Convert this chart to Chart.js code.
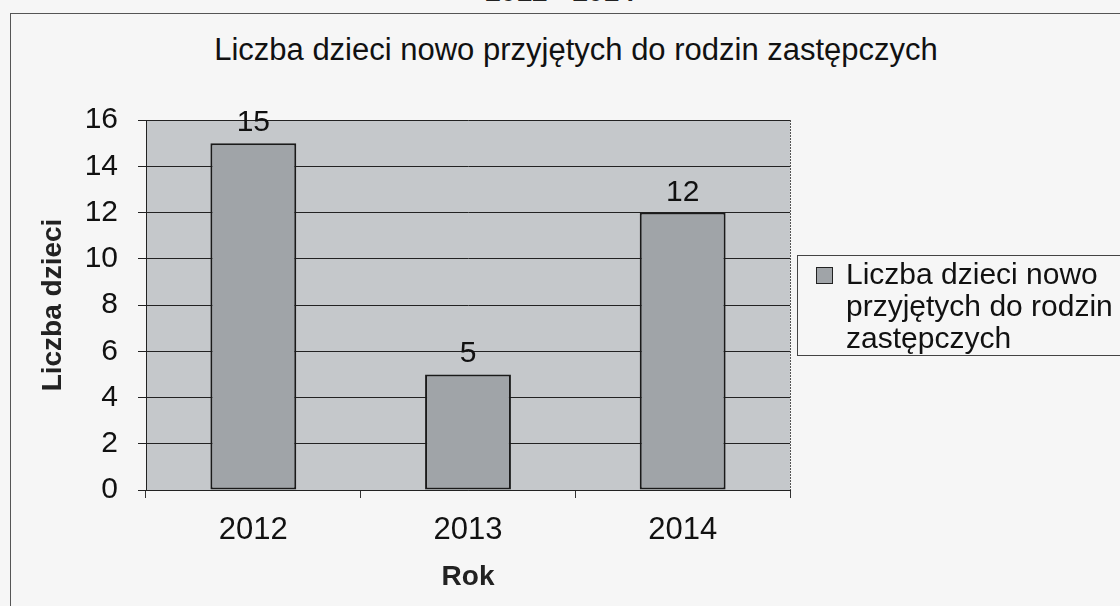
<!DOCTYPE html>
<html>
<head>
<meta charset="utf-8">
<script src="https://cdn.jsdelivr.net/npm/chart.js@4.4.1/dist/chart.umd.min.js"></script>
<style>
  html, body { margin: 0; padding: 0; background: #f6f6f6; }
  #wrap { position: relative; width: 1120px; height: 606px; overflow: hidden; font-family: "Liberation Sans", Arial, sans-serif; }
  #frame { position: absolute; left: 10px; top: 13px; width: 1200px; height: 700px; border: 1.5px solid #555; box-sizing: border-box; }
  #cut { position: absolute; left: 0; width: 1120px; top: -22px; text-align: center; font-weight: bold; font-size: 28px; line-height: 28px; color: #222; }
  #title { position: absolute; left: 0; top: 32px; width: 1152px; text-align: center; font-size: 31px; line-height: 36px; color: #111; white-space: nowrap; }
  #legend { position: absolute; left: 797px; top: 255px; width: 400px; height: 101px; border: 1px solid #444; box-sizing: border-box; }
  #legend .sw { position: absolute; left: 18px; top: 11px; width: 17px; height: 17px; background: #a0a4a8; border: 1px solid #222; box-sizing: border-box; }
  #legend .tx { position: absolute; left: 48px; top: 2px; font-size: 30px; line-height: 32px; color: #111; white-space: nowrap; }
  canvas { position: absolute; left: 0; top: 0; }
</style>
</head>
<body>
<div id="wrap">
  <div id="frame"></div>
  <div id="cut">2012 - 2014</div>
  <div id="title">Liczba dzieci nowo przyjętych do rodzin zastępczych</div>
  <canvas id="c" width="1120" height="606"></canvas>
  <div id="legend"><div class="sw"></div><div class="tx" id="legtx"></div></div>
</div>
<script>
const categories = ["2012", "2013", "2014"];
const values = [15, 5, 12];
const seriesName = "Liczba dzieci nowo przyjętych do rodzin zastępczych";
const legendLines = ["Liczba dzieci nowo", "przyjętych do rodzin", "zastępczych"];
const yTitle = "Liczba dzieci";
const xTitle = "Rok";

document.getElementById('legtx').innerHTML = legendLines.join('<br>');

const FONT = "'Liberation Sans', Arial, sans-serif";

const plotBg = {
  id: 'plotBg',
  beforeDraw(chart) {
    const { ctx, chartArea: a } = chart;
    ctx.save();
    ctx.fillStyle = '#c5c8cb';
    ctx.fillRect(a.left, a.top, a.right - a.left, a.bottom - a.top);
    ctx.restore();
  },
  afterDatasetsDraw(chart) {
    const { ctx, chartArea: a } = chart;
    ctx.save();
    ctx.strokeStyle = '#555';
    ctx.lineWidth = 1;
    ctx.setLineDash([2, 1]);
    ctx.beginPath();
    ctx.moveTo(a.right + 0.5, a.top);
    ctx.lineTo(a.right + 0.5, a.bottom);
    ctx.stroke();
    ctx.restore();
  }
};

const dataLabels = {
  id: 'dataLabels',
  afterDatasetsDraw(chart) {
    const { ctx } = chart;
    const meta = chart.getDatasetMeta(0);
    ctx.save();
    ctx.fillStyle = '#111';
    ctx.font = "30px " + FONT;
    ctx.textAlign = 'center';
    ctx.textBaseline = 'alphabetic';
    meta.data.forEach((bar, i) => {
      ctx.fillText(String(values[i]), bar.x, bar.y - 12);
    });
    ctx.restore();
  }
};

new Chart(document.getElementById('c'), {
  type: 'bar',
  data: {
    labels: categories,
    datasets: [{
      label: seriesName,
      data: values,
      backgroundColor: '#a0a4a8',
      borderColor: '#1a1a1a',
      borderWidth: 2,
      borderSkipped: false,
      categoryPercentage: 1.0,
      barPercentage: 0.4
    }]
  },
  options: {
    responsive: false,
    animation: false,
    devicePixelRatio: 1,
    layout: { padding: { left: 34, right: 330, top: 120, bottom: 0 } },
    plugins: {
      legend: { display: false },
      title: { display: false },
      tooltip: { enabled: false }
    },
    scales: {
      x: {
        afterFit(scale) { scale.height = 116; },
        grid: { display: true, offset: true, drawOnChartArea: false, drawTicks: true, tickLength: 8, color: '#333' },
        border: { display: true, color: '#222', width: 1 },
        ticks: { color: '#111', font: { family: FONT, size: 31 }, padding: 14 },
        title: { display: true, text: xTitle, color: '#222', font: { family: FONT, size: 28, weight: 'bold' }, padding: { top: 4, bottom: 12 } }
      },
      y: {
        min: 0, max: 16,
        afterFit(scale) { scale.width = 112; },
        grid: { color: '#222', lineWidth: 1, tickLength: 8, drawTicks: true },
        border: { display: true, color: '#222', width: 1 },
        ticks: { stepSize: 2, color: '#111', font: { family: FONT, size: 30 }, padding: 20 },
        title: { display: true, text: yTitle, color: '#222', font: { family: FONT, size: 28, weight: 'bold' }, padding: { top: 2, bottom: 16 } }
      }
    }
  },
  plugins: [plotBg, dataLabels]
});
</script>
</body>
</html>
